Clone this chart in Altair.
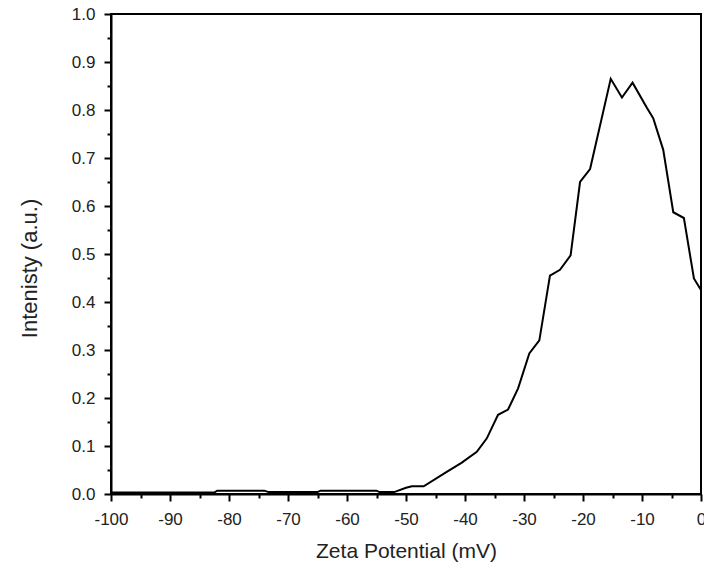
import altair as alt
import pandas as pd

zeta = [-100, -82.5, -82, -74, -73.3, -65, -64.5, -55, -54.5, -52, -50, -49, -47,
        -43.1, -40.6, -38.0, -36.3, -34.4, -32.7, -31.0, -29.1, -27.4, -25.6, -23.9,
        -22.1, -20.5, -18.8, -15.3, -13.4, -11.6, -9.2, -8.1, -6.4, -4.7, -2.9, -1.2, 0]
intensity = [0.003, 0.003, 0.007, 0.007, 0.004, 0.004, 0.007, 0.007, 0.004, 0.004, 0.013, 0.016, 0.016,
             0.046, 0.065, 0.088, 0.116, 0.165, 0.176, 0.22, 0.293, 0.32, 0.455, 0.467,
             0.497, 0.65, 0.677, 0.865, 0.826, 0.857, 0.805, 0.783, 0.717, 0.587, 0.575, 0.449, 0.425]

x_major = list(range(-100, 1, 10))
x_minor = list(range(-95, 0, 10))
y_major = [round(i * 0.1, 1) for i in range(11)]
y_minor = [round(0.05 + i * 0.1, 2) for i in range(10)]

df = pd.DataFrame({"zeta": zeta, "intensity": intensity})

FONT = "Liberation Sans"
TXT = "#222222"

xs = alt.Scale(domain=[-100, 0], nice=False, zero=False)
ys = alt.Scale(domain=[0, 1], nice=False, zero=False)

main = alt.Chart(df).mark_line(color="black", strokeWidth=2).encode(
    x=alt.X("zeta:Q", scale=xs, axis=alt.Axis(
        values=x_major, title="Zeta Potential (mV)", orient="bottom",
        labelExpr="datum.value < 0 ? '-' + format(-datum.value, 'd') : format(datum.value, 'd')",
        tickSize=7, labelPadding=10, titlePadding=13, titleFontSize=21)),
    y=alt.Y("intensity:Q", scale=ys, axis=alt.Axis(
        values=y_major, format=".1f", title="Intenisty (a.u.)", orient="left",
        tickSize=7, labelPadding=9, titleFontSize=22, titleX=-70, titleY=254,
        titleBaseline="bottom", titleAlign="center", titleAngle=270)),
)

minor = alt.Chart(df).mark_line(opacity=0).encode(
    x=alt.X("zeta:Q", scale=xs, axis=alt.Axis(
        values=x_minor, labels=False, title=None, orient="bottom",
        tickSize=4, domain=False)),
    y=alt.Y("intensity:Q", scale=ys, axis=alt.Axis(
        values=y_minor, labels=False, title=None, orient="left",
        tickSize=4, domain=False)),
)

chart = alt.layer(main, minor).resolve_axis(x="independent", y="independent").properties(
    width=590, height=480,
    autosize=alt.AutoSizeParams(type="none"),
    padding={"left": 111, "top": 14, "right": 3, "bottom": 75},
    background="white",
).configure_view(stroke="black", strokeWidth=2).configure_axis(
    grid=False, tickWidth=2, tickColor="black", domainColor="black", domainWidth=2,
    labelFont=FONT, labelFontSize=17, labelColor=TXT, labelFlush=False,
    titleFont=FONT, titleFontWeight="normal", titleColor=TXT,
)

chart.save("out.html", embed_options={"renderer": "svg", "actions": False})
